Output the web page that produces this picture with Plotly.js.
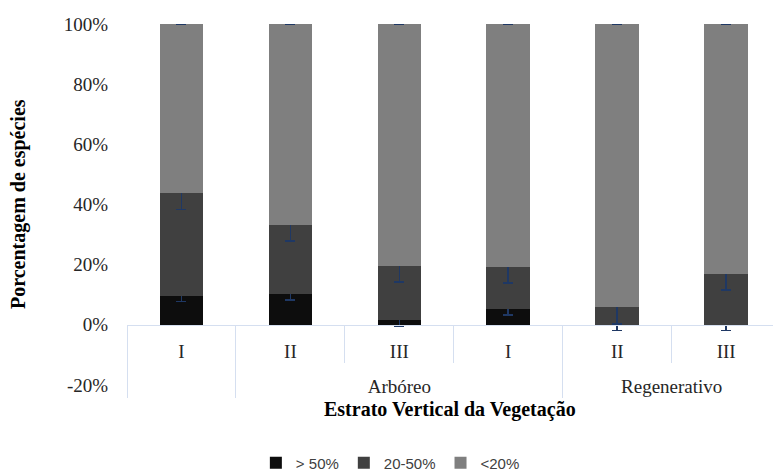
<!DOCTYPE html>
<html>
<head>
<meta charset="utf-8">
<script src="https://cdn.plot.ly/plotly-3.0.1.min.js"></script>
<style>html,body{margin:0;padding:0;background:#fff}#chart{width:773px;height:471px}</style>
</head>
<body>
<div id="chart"></div>
<script>
// Data
const groups = ['', 'Arbóreo', 'Arbóreo', 'Arbóreo', 'Regenerativo', 'Regenerativo'];
const strata = ['I', 'II', 'III', 'I', 'II', 'III'];
const seriesNames = ['> 50%', '20-50%', '<20%'];
const gt50 = [9.7, 10.3, 1.7, 5.4, 0, 0];
const mid2050 = [34.1, 23.0, 18.0, 13.9, 5.9, 17.0];
const lt20 = [56.2, 66.7, 80.3, 80.7, 94.1, 83.0];
const gt50Err = [2.0, 2.0, 2.0, 2.1, 1.9, 1.9];
const midErr = [5.4, 5.5, 5.4, 5.4, 5.6, 5.5];
const lt20Err = [0, 0, 0, 0, 0, 0];
const yTicks = [-20, 0, 20, 40, 60, 80, 100];
const yTickText = ['-20%', '0%', '20%', '40%', '60%', '80%', '100%'];

const colors = ['#0d0d0d', '#404040', '#7f7f7f'];
const errColor = '#1f3864';
const gridBlue = '#d5dff0';
const serif = 'Liberation Serif, Times New Roman, serif';

// category positions derived from the category list
const idx = strata.map((s, i) => i);
const innerBounds = idx.map(i => i - 0.5).concat([idx.length - 0.5]);
const groupNames = [], groupCenters = [], groupBounds = [];
groups.forEach((g, i) => {
  if (i === 0 || g !== groups[i - 1]) {
    groupBounds.push(i - 0.5);
    groupNames.push(g);
    const last = groups.lastIndexOf(g);
    groupCenters.push((i + last) / 2);
  }
});
groupBounds.push(groups.length - 0.5);

function mk(name, vals, errs, color) {
  return {
    type: 'bar', name: name,
    x: idx, y: vals,
    width: 0.4,
    marker: {color: color, line: {width: 0}},
    error_y: {type: 'data', array: errs, visible: true, color: errColor, thickness: 1.6, width: 5}
  };
}

const data = [
  mk(seriesNames[0], gt50, gt50Err, colors[0]),
  mk(seriesNames[1], mid2050, midErr, colors[1]),
  mk(seriesNames[2], lt20, lt20Err, colors[2]),
  {type: 'scatter', mode: 'markers', x: groupCenters, y: groupCenters.map(() => 0), xaxis: 'x2', yaxis: 'y',
   marker: {opacity: 0}, showlegend: false, hoverinfo: 'skip'}
];

const yr = [-20, 100];
const xr = [-0.5, 5.43];
const axPos = (0 - yr[0]) / (yr[1] - yr[0]);
const layout = {
  width: 773, height: 471,
  margin: {l: 127, r: 0, t: 24, b: 86},
  paper_bgcolor: '#fff', plot_bgcolor: '#fff',
  barmode: 'stack',
  showlegend: true,
  legend: {
    orientation: 'h', traceorder: 'normal',
    xref: 'container', yref: 'container',
    x: 0.505, xanchor: 'center', y: 0.017, yanchor: 'middle',
    itemwidth: 30,
    font: {family: 'Liberation Sans, Arial, sans-serif', size: 15, color: '#404040'}
  },
  xaxis: {
    type: 'linear', range: xr,
    anchor: 'free', position: axPos,
    showline: true, linecolor: gridBlue, linewidth: 1,
    tickmode: 'array', tickvals: idx, ticktext: strata, ticks: '',
    ticklabelstandoff: 9, tickangle: 0,
    minor: {tickmode: 'array', tickvals: innerBounds, ticks: 'outside', ticklen: 37, tickcolor: gridBlue, tickwidth: 1, showgrid: false},
    showgrid: false, zeroline: false,
    tickfont: {family: serif, size: 19, color: '#262626'}
  },
  xaxis2: {
    type: 'linear', range: xr,
    overlaying: 'x', anchor: 'free', position: axPos,
    showline: false,
    tickmode: 'array', tickvals: groupCenters, ticktext: groupNames, ticks: '',
    ticklabelstandoff: 48, tickangle: 0,
    minor: {tickmode: 'array', tickvals: groupBounds, ticks: 'outside', ticklen: 72, tickcolor: gridBlue, tickwidth: 1, showgrid: false},
    showgrid: false, zeroline: false,
    tickfont: {family: serif, size: 19, color: '#262626'}
  },
  yaxis: {
    range: yr,
    tickmode: 'array', tickvals: yTicks, ticktext: yTickText,
    showgrid: false, zeroline: false, showline: false,
    ticks: 'outside', ticklen: 14, tickcolor: 'rgba(0,0,0,0)',
    tickfont: {family: serif, size: 19, color: '#262626'}
  },
  annotations: [
    {text: '<b>Estrato Vertical da Vegetação</b>', xref: 'paper', yref: 'paper',
     x: 0.5, y: -24 / 361, xanchor: 'center', yanchor: 'middle', showarrow: false,
     font: {family: serif, size: 20, color: '#000'}},
    {text: '<b>Porcentagem de espécies</b>', xref: 'paper', yref: 'paper',
     x: (18 - 127) / 646, y: (385 - 204) / 361, xanchor: 'center', yanchor: 'middle', textangle: -90, showarrow: false,
     font: {family: serif, size: 20, color: '#000'}}
  ]
};

Plotly.newPlot('chart', data, layout, {displayModeBar: false, staticPlot: true});
</script>
</body>
</html>
